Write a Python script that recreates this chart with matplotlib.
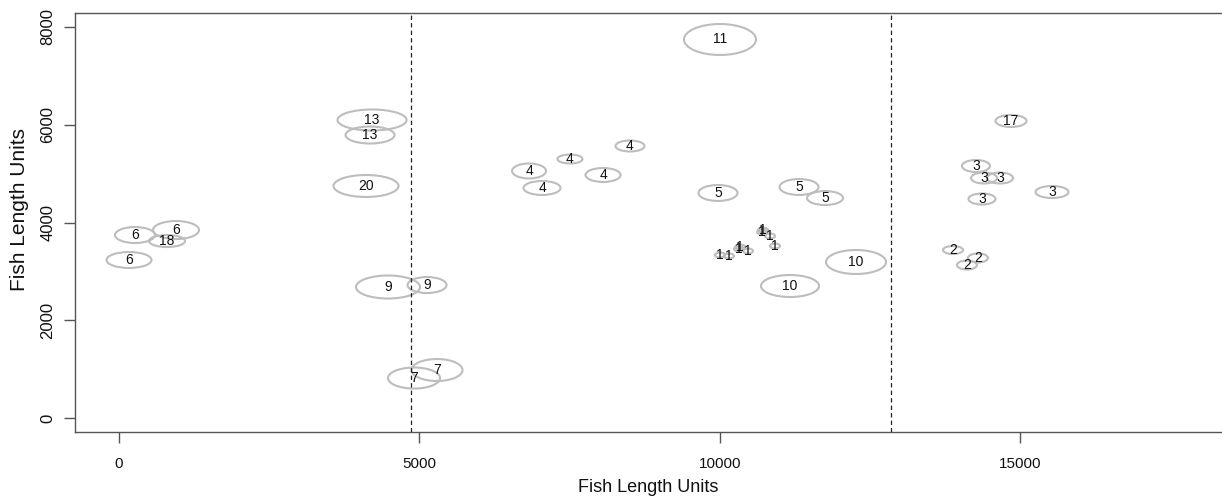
import matplotlib
matplotlib.use("Agg")
import matplotlib.pyplot as plt
from matplotlib.patches import Ellipse

# Cluster centres (fish length units), spreads and group counts
cx = [10005, 4212, 4179, 4112, 266, 949, 799, 166, 4478, 5128, 4911, 5294,
      6826, 7042, 7508, 8058, 8507, 9972, 11321, 11754, 12270, 11171,
      14850, 14267, 14401, 14667, 14367, 15533, 13884, 14117, 14300,
      10005, 10155, 10322, 10339, 10472, 10705, 10721, 10838, 10921]
cy = [7744, 6097, 5790, 4747, 3744, 3846, 3621, 3233, 2680, 2721, 818, 982,
      5054, 4706, 5299, 4972, 5565, 4604, 4726, 4501, 3192, 2701,
      6077, 5156, 4910, 4910, 4481, 4624, 3437, 3130, 3274,
      3335, 3315, 3458, 3499, 3417, 3806, 3846, 3724, 3519]
spread_x = [1199, 1149, 816, 1082, 666, 766, 599, 749, 1065, 649, 866, 849,
            566, 616, 416, 583, 483, 649, 649, 599, 999, 966,
            516, 466, 433, 433, 450, 549, 333, 333, 333,
            166, 166, 166, 166, 166, 166, 166, 166, 166]
spread_y = [634, 430, 348, 450, 327, 368, 246, 327, 471, 327, 430, 450,
            307, 286, 184, 286, 225, 327, 327, 286, 491, 450,
            246, 246, 225, 225, 225, 246, 164, 184, 184,
            102, 102, 102, 102, 102, 102, 102, 102, 102]
counts = ["11", "13", "13", "20", "6", "6", "18", "6", "9", "9", "7", "7",
          "4", "4", "4", "4", "4", "5", "5", "5", "10", "10",
          "17", "3", "3", "3", "3", "3", "2", "2", "2",
          "1", "1", "1", "1", "1", "1", "1", "1", "1"]

# Segment boundaries
breaks = [4860, 12850]

x_ticks = [0, 5000, 10000, 15000]
y_ticks = [0, 2000, 4000, 6000, 8000]

font = "Liberation Sans"

fig = plt.figure(figsize=(12.22, 5.0), dpi=100)
ax = fig.add_axes([75 / 1222, 68 / 500, 1147 / 1222, 419 / 500])

for x, y, w, h, lab in zip(cx, cy, spread_x, spread_y, counts):
    ax.add_patch(Ellipse((x, y), w, h, fill=False, edgecolor="#bdbdbd", lw=1.5))
    ax.text(x, y, lab, ha="center", va="center", fontsize=10,
            family=font, color="#111111")

for b in breaks:
    ax.axvline(b, color="#222222", lw=0.9, ls=(0, (3.5, 2.5)))

ax.set_xlim(-733, 18363)
ax.set_ylim(-286, 8286)

ax.set_xticks(x_ticks)
ax.set_xticklabels([str(v) for v in x_ticks], family=font, fontsize=11)
ax.set_yticks(y_ticks)
ax.set_yticklabels([str(v) for v in y_ticks], family=font, fontsize=12,
                   rotation=90, va="center")

for s in ax.spines.values():
    s.set_color("#555555")
    s.set_linewidth(1.0)
ax.spines["right"].set_visible(False)

ax.tick_params(axis="both", direction="out", length=8, width=1.0,
               color="#555555", labelcolor="#111111")
ax.tick_params(axis="x", pad=10)
ax.tick_params(axis="y", pad=6)

ax.set_xlabel("Fish Length Units", family=font, fontsize=13, labelpad=6,
              color="#111111")
ax.set_ylabel("Fish Length Units", family=font, fontsize=15, color="#111111")
ax.yaxis.set_label_coords(-0.040, 0.53)

fig.savefig("out.png", dpi=100, facecolor="white")
